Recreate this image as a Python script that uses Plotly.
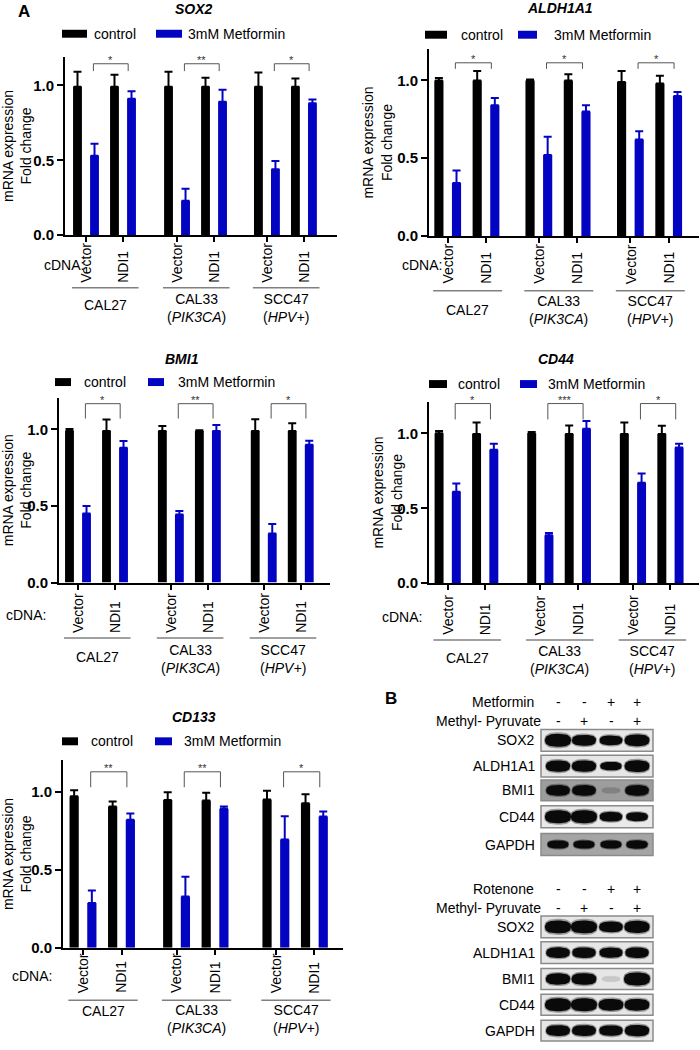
import numpy as np
import plotly.graph_objects as go

W, H = 700, 1050
FONT = "Liberation Sans, Arial, Helvetica, sans-serif"
BLACK = "#000000"
BLUE = "#0303C2"

# ---------------- data ----------------
genes = ["SOX2", "ALDH1A1", "BMI1", "CD44", "CD133"]
cell_lines = ["CAL27", "CAL33", "SCC47"]
cell_notes = ["", "PIK3CA", "HPV+"]
cdna_labels = ["Vector", "NDI1"]
series_names = ["control", "3mM Metformin"]
y_ticks = [0.0, 0.5, 1.0]
y_tick_labels = ["0.0", "0.5", "1.0"]

# bar order: CAL27-Vector, CAL27-NDI1, CAL33-Vector, CAL33-NDI1, SCC47-Vector, SCC47-NDI1
sox2_control = [0.99, 0.99, 0.99, 0.99, 0.99, 0.99]
sox2_control_err = [0.10, 0.08, 0.10, 0.06, 0.095, 0.055]
sox2_metformin = [0.53, 0.91, 0.23, 0.89, 0.44, 0.88]
sox2_metformin_err = [0.08, 0.05, 0.08, 0.08, 0.055, 0.025]
sox2_stars = ["*", "**", "*"]

aldh1a1_control = [1.00, 1.00, 1.00, 1.00, 0.99, 0.98]
aldh1a1_control_err = [0.015, 0.06, 0.006, 0.04, 0.07, 0.05]
aldh1a1_metformin = [0.34, 0.84, 0.52, 0.80, 0.62, 0.90]
aldh1a1_metformin_err = [0.08, 0.047, 0.117, 0.04, 0.053, 0.026]
aldh1a1_stars = ["*", "*", "*"]

bmi1_control = [0.99, 0.99, 0.99, 0.99, 0.99, 0.99]
bmi1_control_err = [0.012, 0.074, 0.033, 0.004, 0.076, 0.05]
bmi1_metformin = [0.45, 0.88, 0.445, 0.99, 0.32, 0.90]
bmi1_metformin_err = [0.05, 0.044, 0.022, 0.039, 0.062, 0.026]
bmi1_stars = ["*", "**", "*"]

cd44_control = [1.00, 0.996, 1.00, 0.996, 0.996, 0.996]
cd44_control_err = [0.015, 0.077, 0.009, 0.057, 0.077, 0.055]
cd44_metformin = [0.61, 0.89, 0.32, 1.03, 0.67, 0.905]
cd44_metformin_err = [0.055, 0.04, 0.015, 0.053, 0.062, 0.025]
cd44_stars = ["*", "***", "*"]

cd133_control = [0.97, 0.905, 0.947, 0.943, 0.949, 0.926]
cd133_control_err = [0.038, 0.032, 0.049, 0.049, 0.057, 0.057]
cd133_metformin = [0.286, 0.82, 0.328, 0.89, 0.693, 0.841]
cd133_metformin_err = [0.08, 0.04, 0.127, 0.015, 0.15, 0.032]
cd133_stars = ["**", "**", "*"]

# western blots (relative band intensity per lane)
blot_proteins = ["SOX2", "ALDH1A1", "BMI1", "CD44", "GAPDH"]
blot1_treatment = "Metformin"
blot1_treatment_signs = ["-", "-", "+", "+"]
blot1_pyruvate_signs = ["-", "+", "-", "+"]
blot1_bands = [
    [1.00, 0.75, 0.62, 0.85],
    [0.80, 0.80, 0.45, 0.85],
    [0.72, 0.72, 0.12, 0.72],
    [1.00, 1.00, 0.60, 0.50],
    [0.42, 0.42, 0.42, 0.46],
]
blot2_treatment = "Rotenone"
blot2_treatment_signs = ["-", "-", "+", "+"]
blot2_pyruvate_signs = ["-", "+", "-", "+"]
blot2_bands = [
    [1.00, 1.00, 0.72, 0.90],
    [0.72, 0.70, 0.66, 0.70],
    [0.80, 0.85, 0.10, 1.00],
    [1.00, 1.00, 0.85, 0.85],
    [0.75, 0.75, 0.70, 0.80],
]

panel_data = {
    "SOX2": (sox2_control, sox2_control_err, sox2_metformin, sox2_metformin_err, sox2_stars),
    "ALDH1A1": (aldh1a1_control, aldh1a1_control_err, aldh1a1_metformin, aldh1a1_metformin_err, aldh1a1_stars),
    "BMI1": (bmi1_control, bmi1_control_err, bmi1_metformin, bmi1_metformin_err, bmi1_stars),
    "CD44": (cd44_control, cd44_control_err, cd44_metformin, cd44_metformin_err, cd44_stars),
    "CD133": (cd133_control, cd133_control_err, cd133_metformin, cd133_metformin_err, cd133_stars),
}

# ---------------- layout geometry (pixels) ----------------
panel_cfg = [
    dict(gene="SOX2", axl=65, axr=337, y0=237, y1=86, ymax=1.19, t0=86, unit=37.0, gaps=(1.46, 1.43),
         br=(1.144, 1.095), title=(194, 9), leg=(62, 87, 92, 156, 182, 186, 34), ylab=17,
         xlab=287, cdna=(64, 267), gline=290, glab1=307, glab2=310),
    dict(gene="ALDH1A1", axl=429, axr=699, y0=237.7, y1=81, ymax=1.2, t0=447.7, unit=38.3, gaps=(1.38, 1.39),
         br=(1.113, 1.074), title=(560, 8), leg=(425, 447, 459, 518, 537, 552, 35), ylab=377,
         xlab=288, cdna=(422, 267), gline=293, glab1=312, glab2=312),
    dict(gene="BMI1", axl=59, axr=330, y0=587, y1=432.7, ymax=1.205, t0=78, unit=37.0, gaps=(1.51, 1.51),
         br=(1.168, 1.071), title=(182, 362), leg=(55, 71, 82, 148, 164, 176, 385), ylab=17,
         xlab=640, cdna=(26, 620), gline=643, glab1=662, glab2=664),
    dict(gene="CD44", axl=429, axr=699, y0=587.7, y1=436.7, ymax=1.21, t0=447.7, unit=37.5, gaps=(1.47, 1.47),
         br=(1.199, 1.093), title=(556, 362), leg=(429, 447, 456, 520, 537, 546, 387), ylab=387,
         xlab=642, cdna=(402, 622), gline=645, glab1=663, glab2=665),
    dict(gene="CD133", axl=63, axr=343, y0=955, y1=797.7, ymax=1.2, t0=83, unit=38.5, gaps=(1.43, 1.58),
         br=(1.127, 1.028), title=(194, 723), leg=(62, 78, 89, 155, 172, 182, 747), ylab=17,
         xlab=1003, cdna=(32, 983), gline=1008, glab1=1019, glab2=1027),
]


def px(v):
    return v / W


def py(v):
    return 1 - v / H


def ann(**kw):
    d = dict(showarrow=False, xanchor="center", yanchor="middle",
             font=dict(size=14, color="black", family=FONT))
    d.update(kw)
    return d


fig = go.Figure()
shapes = []
annotations = []
layout_axes = {}

for k, cfg in enumerate(panel_cfg):
    n = k + 1
    xa = "x" if n == 1 else f"x{n}"
    ya = "y" if n == 1 else f"y{n}"
    xkey = "xaxis" if n == 1 else f"xaxis{n}"
    ykey = "yaxis" if n == 1 else f"yaxis{n}"
    ctrl, ctrl_err, met, met_err, stars = panel_data[cfg["gene"]]
    g1, g2 = cfg["gaps"]
    starts = [0.0, 1.0 + g1, 2.0 + g1 + g2]
    pos = [s + j for s in starts for j in range(len(cdna_labels))]

    for vals, errs, color, name in [(ctrl, ctrl_err, BLACK, series_names[0]),
                                    (met, met_err, BLUE, series_names[1])]:
        fig.add_trace(go.Bar(
            x=pos, y=vals, name=name, marker=dict(color=color, line=dict(width=0)),
            error_y=dict(type="data", array=errs, arrayminus=[0] * len(errs), symmetric=False,
                         color=color, thickness=2, width=4),
            xaxis=xa, yaxis=ya, showlegend=False))

    ytop = cfg["y0"] - cfg["ymax"] * (cfg["y0"] - cfg["y1"])
    xr = [(cfg["axl"] - cfg["t0"]) / cfg["unit"], (cfg["axr"] - cfg["t0"]) / cfg["unit"]]
    layout_axes[xkey] = dict(domain=[px(cfg["axl"]), px(cfg["axr"])], range=xr, anchor=ya,
                             showline=True, linecolor="black", linewidth=2, ticks="outside",
                             tickvals=pos, ticklen=5, tickwidth=2, tickcolor="black",
                             showticklabels=False, showgrid=False, zeroline=False, fixedrange=True)
    layout_axes[ykey] = dict(domain=[py(cfg["y0"]), py(ytop)], range=[0, cfg["ymax"]], anchor=xa,
                             showline=True, linecolor="black", linewidth=2, ticks="outside",
                             tickvals=y_ticks, ticktext=[f"<b>{t}</b>" for t in y_tick_labels],
                             ticklen=6, tickwidth=2, tickcolor="black",
                             tickfont=dict(size=15, color="black", family=FONT),
                             showgrid=False, zeroline=False, fixedrange=True)

    # significance brackets
    btop, bleg = cfg["br"]
    for gi in range(len(cell_lines)):
        l = pos[2 * gi] + 0.2
        r = pos[2 * gi + 1] + 0.14
        shapes.append(dict(type="path", xref=xa, yref=ya,
                           path=f"M {l},{bleg} L {l},{btop} L {r},{btop} L {r},{bleg}",
                           line=dict(color="#555555", width=1)))
        annotations.append(ann(x=(l + r) / 2, y=btop, xref=xa, yref=ya, text=stars[gi],
                               yanchor="bottom", yshift=-4,
                               font=dict(size=11, color="#333333", family=FONT)))

    # title
    tx, ty = cfg["title"]
    annotations.append(ann(x=px(tx), y=py(ty), xref="paper", yref="paper",
                           text=f"<b><i>{cfg['gene']}</i></b>"))

    # legend
    bx0, bx1, ctx, ux0, ux1, utx, ly = cfg["leg"]
    for (a0, a1), color, tx0, label in [((bx0, bx1), BLACK, ctx, series_names[0]),
                                        ((ux0, ux1), BLUE, utx, series_names[1])]:
        shapes.append(dict(type="rect", xref="paper", yref="paper", x0=px(a0), x1=px(a1),
                           y0=py(ly + 4), y1=py(ly - 4), fillcolor=color, line=dict(width=0)))
        annotations.append(ann(x=px(tx0), y=py(ly), xref="paper", yref="paper", text=label,
                               xanchor="left"))

    # y-axis title
    annotations.append(ann(x=px(cfg["ylab"]), y=0.5, xref="paper", yref=f"{ya} domain",
                           text="mRNA expression<br>Fold change", textangle=-90))

    # x labels
    for i, p in enumerate(pos):
        annotations.append(ann(x=p, y=py(cfg["xlab"]), xref=xa, yref="paper",
                               text=cdna_labels[i % 2], textangle=-90, yanchor="bottom"))
    cx, cy = cfg["cdna"]
    annotations.append(ann(x=px(cx), y=py(cy), xref="paper", yref="paper", text="cDNA:"))
    for gi in range(len(cell_lines)):
        l = pos[2 * gi] - 0.38
        r = pos[2 * gi + 1] + 0.42
        shapes.append(dict(type="line", xref=xa, yref="paper", x0=l, x1=r,
                           y0=py(cfg["gline"]), y1=py(cfg["gline"]),
                           line=dict(color="#808080", width=1.5)))
        if cell_notes[gi]:
            txt = f"{cell_lines[gi]}<br>(<i>{cell_notes[gi]}</i>)"
            yy = cfg["glab2"]
        else:
            txt = cell_lines[gi]
            yy = cfg["glab1"]
        annotations.append(ann(x=(l + r) / 2, y=py(yy), xref=xa, yref="paper", text=txt))

annotations.append(ann(x=px(24), y=py(12), xref="paper", yref="paper", text="<b>A</b>",
                       font=dict(size=17, color="black", family=FONT)))

# ---------------- panel B: western blots ----------------
BX0, BY0 = 370, 680
layout_axes["xaxis6"] = dict(domain=[px(BX0), 1], range=[BX0, W], visible=False, anchor="y6",
                             fixedrange=True)
layout_axes["yaxis6"] = dict(domain=[0, py(BY0)], range=[H, BY0], visible=False, anchor="x6",
                             fixedrange=True)
annotations.append(ann(x=391, y=704, xref="x6", yref="y6", text="<b>B</b>",
                       font=dict(size=17, color="black", family=FONT)))

lane_x = [558, 584, 611, 637]
box_x = (541, 653)
label_right = 537
blot_specs = [
    dict(treat=blot1_treatment, tsigns=blot1_treatment_signs, psigns=blot1_pyruvate_signs,
         bands=blot1_bands, hdr=(707, 727), rows=[(735, 757), (761, 783), (786, 807), (812, 834), (840, 862)],
         bg=["#e8e8e8", "#e6e6e6", "#9d9d9d", "#e9e9e9", "#a5a5a5"]),
    dict(treat=blot2_treatment, tsigns=blot2_treatment_signs, psigns=blot2_pyruvate_signs,
         bands=blot2_bands, hdr=(896, 915), rows=[(923, 945), (949, 971), (976, 997), (1002, 1023), (1028, 1049)],
         bg=["#e6e6e6"] * 5),
]


def band_outline(cx, cy, a, b, nexp=2.6, m=48):
    t = np.linspace(0, 2 * np.pi, m)
    c, s = np.cos(t), np.sin(t)
    xs = cx + a * np.sign(c) * np.abs(c) ** (2 / nexp)
    ys = cy + b * np.sign(s) * np.abs(s) ** (2 / nexp)
    return xs, ys


for spec in blot_specs:
    h1, h2 = spec["hdr"]
    annotations.append(ann(x=label_right - 1, y=h1, xref="x6", yref="y6", text=spec["treat"],
                           xanchor="right"))
    annotations.append(ann(x=label_right + 6, y=h2, xref="x6", yref="y6", text="Methyl- Pyruvate",
                           xanchor="right"))
    for j, lx in enumerate(lane_x):
        for sgn, hy in [(spec["tsigns"][j], h1), (spec["psigns"][j], h2)]:
            annotations.append(ann(x=lx, y=hy, xref="x6", yref="y6", text=sgn))
    for r, (prot, (ry0, ry1)) in enumerate(zip(blot_proteins, spec["rows"])):
        shapes.append(dict(type="rect", xref="x6", yref="y6", x0=box_x[0], x1=box_x[1], y0=ry0, y1=ry1,
                           fillcolor=spec["bg"][r], line=dict(color="#8a8a8a", width=1.5), layer="below"))
        annotations.append(ann(x=label_right, y=(ry0 + ry1) / 2, xref="x6", yref="y6", text=prot,
                               xanchor="right"))
        cy = (ry0 + ry1) / 2
        for j, lx in enumerate(lane_x):
            inten = spec["bands"][r][j]
            a = 8.8 + 4.2 * inten
            b = 2.5 + 4.0 * inten
            alpha = min(1.0, (inten / 0.32) ** 2)
            for scale_a, scale_b, fa in [(1.07, 1.25, 0.35), (1.0, 1.0, 1.0)]:
                xs, ys = band_outline(lx, cy, a * scale_a, b * scale_b)
                fig.add_trace(go.Scatter(x=xs, y=ys, mode="lines", fill="toself",
                                         fillcolor=f"rgba(10,10,10,{alpha * fa:.3f})",
                                         line=dict(width=0), hoverinfo="skip",
                                         xaxis="x6", yaxis="y6", showlegend=False))

fig.update_layout(
    width=W, height=H, margin=dict(l=0, r=0, t=0, b=0),
    paper_bgcolor="white", plot_bgcolor="rgba(0,0,0,0)",
    barmode="group", bargap=0.08, bargroupgap=0.48,
    font=dict(family=FONT, size=14, color="black"),
    shapes=shapes, annotations=annotations, showlegend=False,
    **layout_axes,
)

fig.write_html("out.html", config={"displayModeBar": False},
               post_script="document.body.style.margin='0px';document.body.style.padding='0px';")
